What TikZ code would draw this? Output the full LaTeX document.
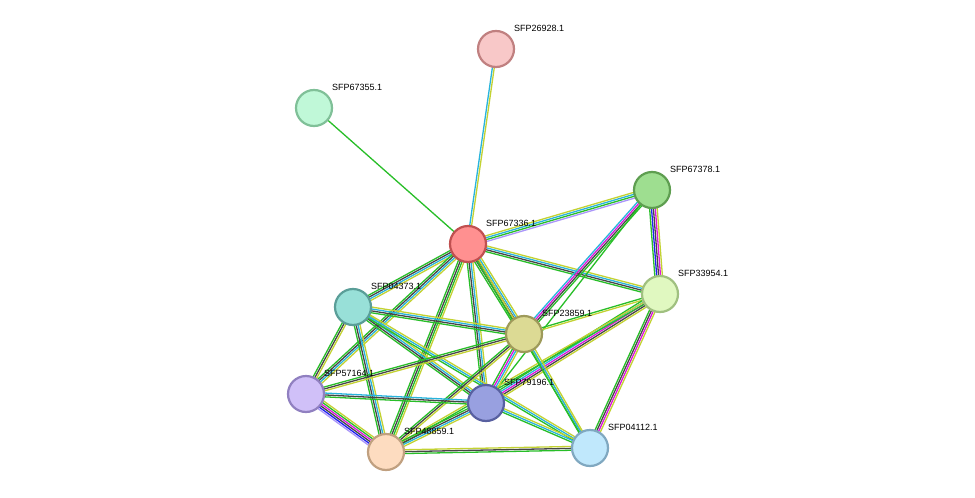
\documentclass[tikz,border=0pt]{standalone}
\usepackage{fontspec}
\setmainfont{Liberation Sans}
\usetikzlibrary{calc}
\definecolor{gr}{RGB}{40,190,40}
\definecolor{cy}{RGB}{40,180,220}
\definecolor{yl}{RGB}{195,210,50}
\definecolor{dk}{RGB}{70,70,70}
\definecolor{mg}{RGB}{220,20,220}
\definecolor{pu}{RGB}{170,150,250}
\definecolor{bl}{RGB}{30,30,240}
\newcommand\edge[4]{%
  \foreach \c [count=\i] in {#4}{%
    \pgfmathsetmacro\o{(\i-(#3+1)/2)*1.9}%
    \draw[\c,line width=1.3pt] ($(#1)!\o pt!90:(#2)$) -- ($(#2)!\o pt!-90:(#1)$);
  }}
\tikzset{prot/.style={circle,minimum size=36pt,inner sep=0pt,line width=2.2pt},
  lab/.style={anchor=west,font=\fontsize{9}{10}\selectfont,inner sep=0pt}}
\begin{document}
\begin{tikzpicture}[x=1pt,y=-1pt]
\useasboundingbox[fill=white] (0,0) rectangle (975,498);
\coordinate (a) at (496,49);
\coordinate (b) at (314,108);
\coordinate (c) at (652,190);
\coordinate (d) at (468,244);
\coordinate (e) at (660,294);
\coordinate (f) at (353,307);
\coordinate (g) at (524,334);
\coordinate (h) at (306,394);
\coordinate (i) at (486,403);
\coordinate (j) at (386,452);
\coordinate (k) at (590,448);
\edge{d}{a}{2}{yl,cy}
\edge{d}{b}{1}{gr}
\edge{d}{c}{4}{pu,gr,cy,yl}
\edge{d}{e}{4}{gr,dk,cy,yl}
\edge{d}{f}{4}{gr,dk,cy,yl}
\edge{d}{g}{5}{gr,dk,dk,cy,yl}
\edge{d}{h}{4}{gr,dk,cy,yl}
\edge{d}{i}{4}{gr,dk,cy,yl}
\edge{d}{j}{4}{gr,dk,gr,yl}
\edge{d}{k}{2}{gr,yl}
\edge{c}{e}{5}{gr,bl,dk,mg,yl}
\edge{c}{g}{4}{cy,mg,dk,gr}
\edge{c}{i}{1}{gr}
\edge{e}{g}{2}{gr,yl}
\edge{e}{i}{5}{gr,cy,mg,dk,yl}
\edge{e}{j}{2}{yl,gr}
\edge{e}{k}{4}{gr,dk,mg,yl}
\edge{f}{g}{4}{gr,dk,cy,yl}
\edge{f}{i}{4}{gr,dk,cy,yl}
\edge{f}{k}{3}{gr,cy,yl}
\edge{f}{h}{3}{gr,dk,yl}
\edge{f}{j}{4}{gr,dk,cy,yl}
\edge{g}{h}{3}{gr,dk,yl}
\edge{g}{i}{4}{gr,mg,cy,yl}
\edge{g}{j}{3}{gr,dk,yl}
\edge{g}{k}{3}{gr,cy,yl}
\edge{h}{i}{3}{gr,dk,cy}
\edge{h}{j}{6}{pu,bl,dk,mg,gr,yl}
\edge{i}{j}{4}{gr,dk,cy,yl}
\edge{i}{k}{3}{gr,cy,yl}
\edge{j}{k}{3}{gr,dk,yl}
\foreach \n/\t/\f/\s in {a/SFP26928.1/F8C8C8/C08080, b/SFP67355.1/C0F8D8/80C098,
  c/SFP67378.1/9EDE90/5E9E50, d/SFP67336.1/FF9090/C05050, e/SFP33954.1/E0F8C0/A0C080,
  f/SFP04373.1/98E0D8/5A9E98, g/SFP23859.1/DCDA94/9E9A5A, h/SFP57164.1/D0C0F8/9080C0,
  i/SFP79196.1/98A0E0/5860A0, j/SFP48859.1/FDDCC0/C0A080, k/SFP04112.1/C0E8FC/80A8C0}{
  \definecolor{nf}{HTML}{\f}\definecolor{ns}{HTML}{\s}
  \node[prot,fill=nf,draw=ns] (n\n) at (\n) {};
  \node[lab] (l\n) at ($(\n)+(18,-21)$) {\t};
}
\end{tikzpicture}
\end{document}
